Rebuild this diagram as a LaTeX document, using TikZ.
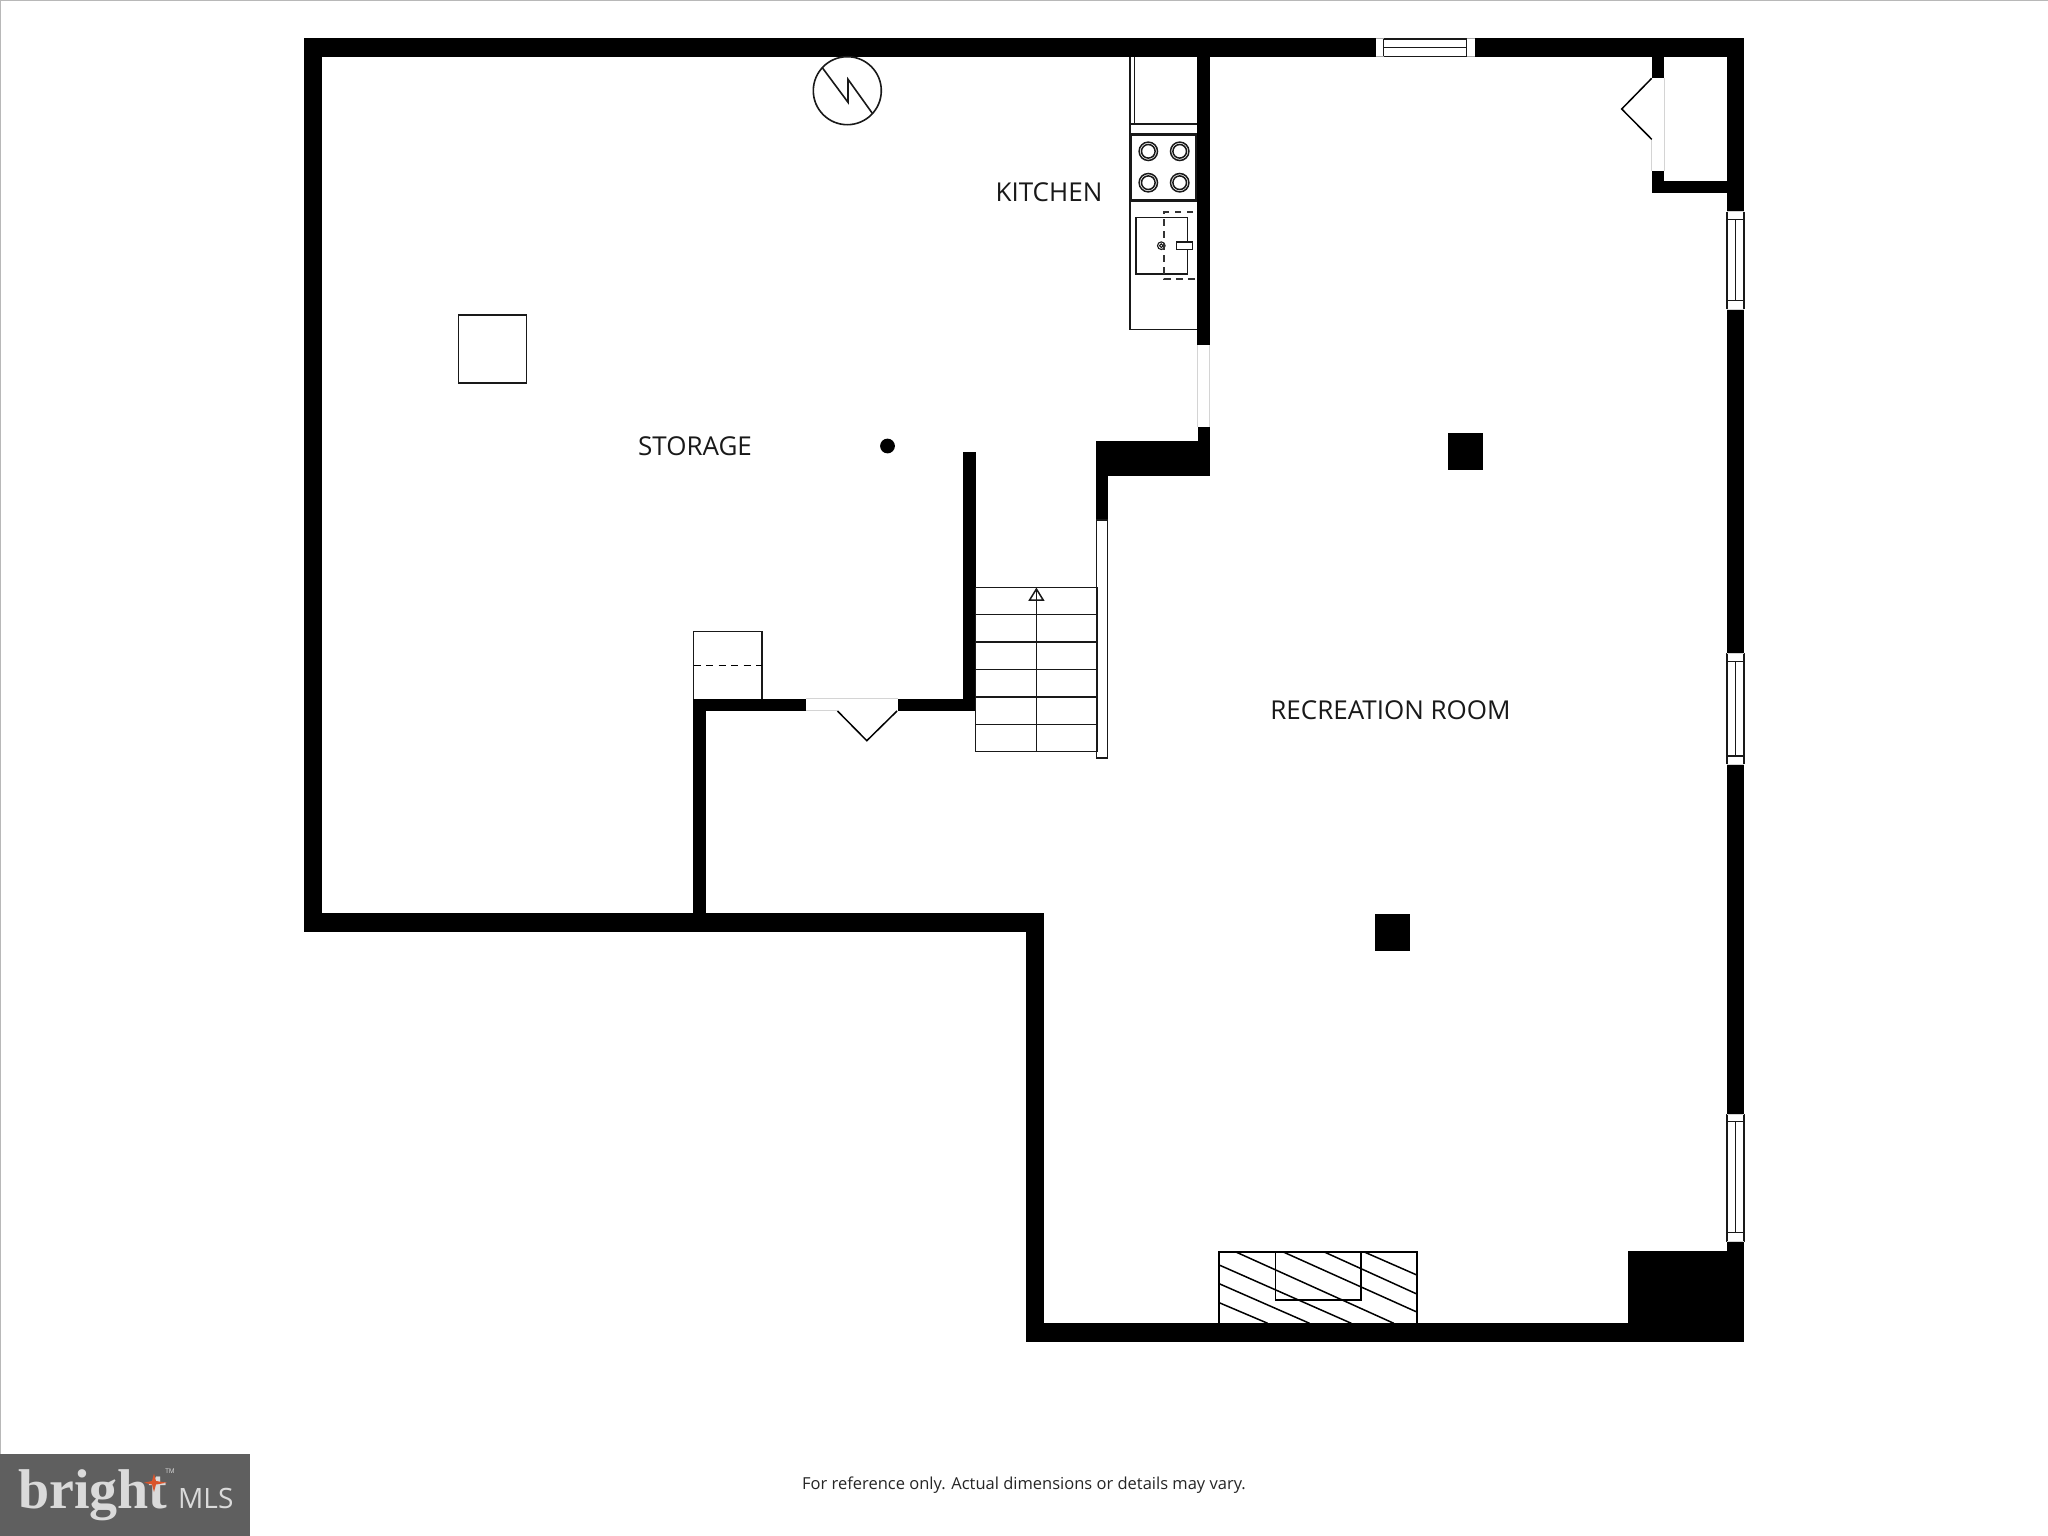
\documentclass[tikz,border=0pt]{standalone}
\usepackage{fontspec}
\setmainfont{Open Sans}
\newfontfamily\logoserif{Liberation Serif}
\definecolor{edgegrey}{HTML}{D4D4D4}
\definecolor{winedge}{HTML}{AAAAAA}
\definecolor{frameline}{HTML}{B8B8B8}
\definecolor{logobg}{HTML}{5F5F5F}
\definecolor{logotext}{HTML}{DADADA}
\definecolor{logostar}{HTML}{D9542B}
\tikzset{
  wallfill/.style={fill=black,draw=none},
  fixture/.style={draw=black!90,line width=1.5pt,fill=white},
  fineln/.style={draw=black!90,line width=1.5pt},
  dashln/.style={draw=black!80,line width=1.2pt,dash pattern=on 6.5pt off 5.5pt},
  ghostln/.style={draw=edgegrey,line width=1pt},
  winghost/.style={draw=winedge,line width=1pt},
  doorleaf/.style={draw=black,line width=1.5pt,line join=miter},
  hatchln/.style={draw=black,line width=1.5pt},
  fireln/.style={draw=black,line width=1.8pt},
  roomlabel/.style={anchor=base,text=black!90,font=\fontsize{26}{30}\selectfont,inner sep=0pt},
}
\newcommand{\sidewin}[4]{% gap top, inner top, inner bottom, gap bottom
  \fill[white] (1726.7,#1) rectangle (1744.3,#4);
  \draw[fineln] (1727.2,#1) -- (1727.2,#4);
  \draw[fineln] (1743.8,#1) -- (1743.8,#4);
  \draw[fineln] (1726.7,#2) -- (1744.3,#2);
  \draw[fineln] (1726.7,#3) -- (1744.3,#3);
  \draw[fineln] (1735.5,#2) -- (1735.5,#3);
  \draw[ghostln] (1726.7,#1) -- (1744.3,#1);
  \draw[ghostln] (1726.7,#4) -- (1744.3,#4);
}
\begin{document}
\begin{tikzpicture}[x=1pt,y=-1pt]
\useasboundingbox (0,0) rectangle (2048,1536);
\fill[white] (0,0) rectangle (2048,1536);
\fill[frameline] (0,0) rectangle (2048,1.2);
\fill[frameline] (0,0) rectangle (1.2,1454);

% outer walls
\fill[wallfill] (303.8,38.5) rectangle (1744.3,56.8);
\fill[wallfill] (303.8,38.5) rectangle (322,931.7);
\fill[wallfill] (303.8,913.3) rectangle (1044.3,931.7);
\fill[wallfill] (1026.4,913.3) rectangle (1044.3,1341.7);
\fill[wallfill] (1026.4,1323.3) rectangle (1744.3,1341.7);
\fill[wallfill] (1726.7,38.5) rectangle (1744.3,1341.7);
\fill[wallfill] (1628.4,1251.3) rectangle (1744.3,1341.7);

% inner walls
\fill[wallfill] (692.8,698.7) rectangle (705.6,931.7);
\fill[wallfill] (692.8,698.7) rectangle (806.4,711);
\fill[wallfill] (897.5,698.7) rectangle (975.7,711);
\fill[wallfill] (963,451.7) rectangle (975.7,711);
\fill[wallfill] (1197.3,50) rectangle (1209.7,345);
\fill[wallfill] (1197.5,426.7) rectangle (1209.7,476);
\fill[wallfill] (1096,440.7) rectangle (1209.7,476);
\fill[wallfill] (1096,440.7) rectangle (1108,520);

% closet
\fill[wallfill] (1651.7,50) rectangle (1664.3,78.3);
\fill[wallfill] (1651.7,170.7) rectangle (1664.3,193.3);
\fill[wallfill] (1651.7,181) rectangle (1730,193.3);
\draw[ghostln] (1664.3,78.3) -- (1664.3,170.7);
\draw[ghostln] (1651.7,139.3) -- (1651.7,170.7);
\draw[doorleaf] (1651.7,78.3) -- (1621.7,109) -- (1651.7,139.3);

% pillars
\fill[wallfill] (1447.7,433.2) rectangle (1483,470.4);
\fill[wallfill] (1375,914) rectangle (1410.3,950.7);
\fill[wallfill] (887.5,446) circle[radius=7.4pt];

% top window
\fill[white] (1375.7,39) rectangle (1474.7,56.3);
\draw[winghost] (1375.7,39) -- (1474.7,39);
\draw[winghost] (1375.7,56.3) -- (1474.7,56.3);
\draw[fineln] (1383.7,39) -- (1383.7,56.3);
\draw[fineln] (1466.7,39) -- (1466.7,56.3);
\draw[fineln] (1383.7,39) -- (1466.7,39);
\draw[fineln] (1383.7,47.7) -- (1466.7,47.7);
\draw[fineln] (1383.7,56.3) -- (1466.7,56.3);

% side windows
\sidewin{211.7}{219.3}{300.7}{309}
\sidewin{653.3}{661.3}{756}{764.3}
\sidewin{1114}{1121.7}{1232.7}{1241.7}

% kitchen door gap
\draw[ghostln] (1197.5,345) -- (1197.5,426.7);
\draw[ghostln] (1209.7,345) -- (1209.7,426.7);

% furnace circle
\draw[fineln,line width=1.6pt] (847.3,90.7) circle[radius=34pt];
\draw[fineln,line width=1.6pt] (822.3,67.7) -- (848,102.3) -- (848,79.3) -- (872.3,113.3);

% square
\draw[fixture] (458.6,315.2) rectangle (526.6,383);

% kitchen
\draw[fineln] (1130,56.8) -- (1130,329.3) -- (1197.3,329.3);
\draw[fineln] (1134.7,56.8) -- (1134.7,124);
\draw[fineln] (1130,124) -- (1197.3,124);
\draw[fineln] (1130,133.3) -- (1197.3,133.3);
\draw[fineln] (1130,201) -- (1197.3,201);
\draw[fineln] (1131.5,135) rectangle (1196,199.3);
\foreach \bx in {1148.3,1179.7}
  \foreach \by in {151.3,182.7} {
    \draw[fineln] (\bx,\by) circle[radius=9.2pt];
    \draw[fineln] (\bx,\by) circle[radius=6.8pt];
  }
\draw[fineln] (1136,217.3) rectangle (1187.3,274);
\draw[fineln,line width=1.1pt] (1161.3,245.7) circle[radius=3.8pt];
\draw[fineln,line width=1.1pt] (1161.3,245.7) circle[radius=1.8pt];
\draw[fixture] (1176.3,242) rectangle (1192.3,249.3);
\draw[dashln] (1193,212) -- (1164,212) -- (1164,279) -- (1197.3,279);

% storage box
\draw[fineln] (693.5,698.7) -- (693.5,631.3) -- (761.8,631.3) -- (761.8,698.7);
\draw[dashln,draw=black,line width=1.4pt,dash pattern=on 7pt off 5.5pt] (693.5,665.3) -- (761.8,665.3);

% door between rooms
\draw[ghostln] (806.4,698.9) -- (897.5,698.9);
\draw[ghostln] (806.4,710.8) -- (837.5,710.8);
\draw[doorleaf] (837.5,711) -- (866.8,740.7) -- (897,711);

% stairs
\draw[fixture] (1096.5,520) rectangle (1107.7,758);
\draw[fineln] (975.7,587.7) rectangle (1097,751.7);
\foreach \ty in {614.7,642,669.7,697,724.3}
  \draw[fineln] (975.7,\ty) -- (1097,\ty);
\draw[fineln] (1036.4,751.7) -- (1036.4,589);
\draw[fineln] (1036.4,589) -- (1029.6,600) -- (1043.2,600) -- cycle;

% fireplace
\draw[fireln] (1219.2,1323.3) -- (1219.2,1252.3) -- (1416.8,1252.3) -- (1416.8,1323.3);
\draw[fireln] (1275.4,1252.3) -- (1275.4,1300.3) -- (1361.3,1300.3) -- (1361.3,1252.3);
\draw[hatchln] (1219.2,1302.7) -- (1267.7,1323.3);
\draw[hatchln] (1219.2,1283.7) -- (1309.5,1323.3);
\draw[hatchln] (1219.2,1265) -- (1351.3,1323.3);
\draw[hatchln] (1236.6,1252.3) -- (1393.8,1323.3);
\draw[hatchln] (1284,1252.3) -- (1416.8,1312);
\draw[hatchln] (1325,1252.3) -- (1416.8,1294);
\draw[hatchln] (1365,1252.3) -- (1416.8,1275);

% labels
\node[roomlabel] (kitchenlabel) at (1049,201) {KITCHEN};
\node[roomlabel] (storagelabel) at (695,455) {STORAGE};
\node[roomlabel] (recreationlabel) at (1390.5,719) {RECREATION ROOM};
\node[anchor=base,inner sep=0pt,text=black!85,font=\fontsize{16.5}{18}\selectfont] (disclaimer) at (1024,1489) {For reference only. Actual dimensions or details may vary.};

% logo
\fill[logobg] (0,1454) rectangle (250,1536);
\node[anchor=base west,inner sep=0pt,text=logotext,font=\logoserif\bfseries\fontsize{56}{60}\selectfont] (brightlogo) at (18,1508) {bright};
\fill[logostar] (144,1482.7) -- (152,1481) -- (154,1473.5) -- (156,1481) -- (167,1482.7) -- (156,1484.5) -- (154,1492) -- (152,1484.5) -- cycle;
\node[anchor=base,inner sep=0pt,text=logotext,font=\fontsize{6.5}{7}\selectfont] (tmmark) at (170,1473) {TM};
\node[anchor=base west,inner sep=0pt,text=logotext,font=\fontsize{28}{30}\selectfont] (mlslogo) at (178,1508) {MLS};
\end{tikzpicture}
\end{document}
